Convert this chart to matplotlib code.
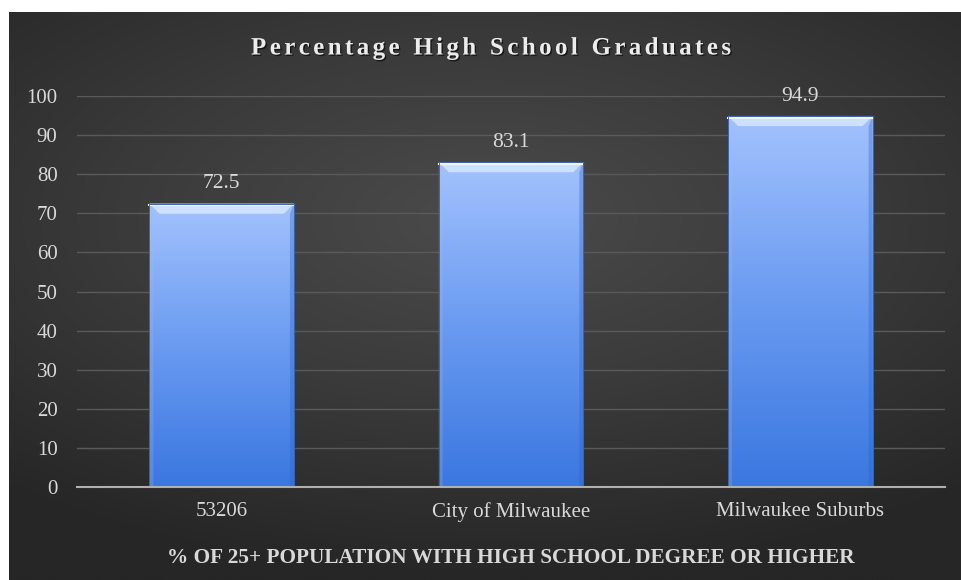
import numpy as np
import matplotlib
matplotlib.use("Agg")
from matplotlib import pyplot as plt
from matplotlib.colors import LinearSegmentedColormap
from matplotlib.patches import Polygon
import matplotlib.patheffects as pe

categories = ["53206", "City of Milwaukee", "Milwaukee Suburbs"]
values = [72.5, 83.1, 94.9]
yticks = [0, 10, 20, 30, 40, 50, 60, 70, 80, 90, 100]

title = "Percentage High School Graduates"
xlabel = "% OF 25+ POPULATION WITH HIGH SCHOOL DEGREE OR HIGHER"

plt.rcParams['font.family'] = ['Liberation Serif', 'DejaVu Serif']

fig = plt.figure(figsize=(9.62, 5.8), dpi=100)
fig.patch.set_facecolor('white')

# dark radial background
bg = fig.add_axes([9 / 962, 0, 953 / 962, 568 / 580])
yy, xx = np.mgrid[-1:1:300j, -1:1:500j]
r = np.sqrt((xx * 0.9) ** 2 + (yy * 1.1 + 0.3) ** 2)
bg_cmap = LinearSegmentedColormap.from_list('bg', ['#4b4b4b', '#3a3a3a', '#262626'])
bg.imshow(r, cmap=bg_cmap, aspect='auto', extent=[0, 1, 0, 1], vmin=0, vmax=1.4)
bg.axis('off')

ax = fig.add_axes([77 / 962, (580 - 487) / 580, (945 - 77) / 962, (487 - 96) / 580])
ax.patch.set_alpha(0)
ax.set_xlim(-0.5, 2.5)
ax.set_ylim(0, 100)

bars = ax.bar(range(len(categories)), values, width=0.5, color='none', zorder=3)
bar_cmap = LinearSegmentedColormap.from_list('bar', ['#3a77e0', '#6a9bf1', '#a3c2fd'])
grad = np.linspace(0, 1, 256).reshape(-1, 1)
dx = 0.035   # bevel width in data units (x)
dy = 2.6     # bevel height in data units (y)
for b in bars:
    x0, w, h = b.get_x(), b.get_width(), b.get_height()
    x1 = x0 + w
    im = ax.imshow(grad, cmap=bar_cmap, aspect='auto', origin='lower',
                   extent=[x0, x1, 0, h], zorder=3, vmin=0, vmax=1)
    im.set_clip_path(b)
    # bevels
    ax.add_patch(Polygon([[x0, h], [x1, h], [x1 - dx, h - dy], [x0 + dx, h - dy]],
                         closed=True, facecolor='#d6e6ff', edgecolor='none', alpha=0.85, zorder=4))
    ax.add_patch(Polygon([[x0, 0], [x0, h], [x0 + dx * 0.4, h - dy], [x0 + dx * 0.4, 0]],
                         closed=True, facecolor='#9dbdf8', edgecolor='none', alpha=0.25, zorder=4))
    ax.add_patch(Polygon([[x1, 0], [x1, h], [x1 - dx * 0.4, h - dy], [x1 - dx * 0.4, 0]],
                         closed=True, facecolor='#2e63c4', edgecolor='none', alpha=0.35, zorder=4))
    ax.plot([x0, x1], [h - 0.5, h - 0.5], color='#eef5ff', lw=1.5, zorder=4)
    ax.plot([x0, x1, x1, x0, x0], [0, 0, h, h, 0], color='#3c64a8', lw=0.7, zorder=4)
    ax.text(x0 + w / 2, h + 2.6, f"{h:.1f}", ha='center', va='bottom', fontsize=15.5,
            color='#d9d9d9', zorder=5)

ax.set_yticks(yticks)
ax.set_xticks(range(len(categories)))
ax.set_xticklabels(categories)
ax.grid(axis='y', color='#5a5a5a', lw=1, zorder=0)
ax.tick_params(axis='both', length=0, labelsize=15, labelcolor='#d9d9d9')
ax.tick_params(axis='y', pad=14)
ax.tick_params(axis='x', pad=11)
for s in ['top', 'right', 'left']:
    ax.spines[s].set_visible(False)
ax.spines['bottom'].set_color('#b0b0b0')
ax.spines['bottom'].set_linewidth(1.5)
ax.spines['bottom'].set_zorder(6)

ax.set_xlabel(xlabel, fontsize=15.3, fontweight='bold', color='#d9d9d9', va='center')
ax.xaxis.set_label_coords(0.5, -(558 - 487) / 391)

# title with letter spacing
renderer = fig.canvas.get_renderer()
fsize = 18
shadow = [pe.withSimplePatchShadow(offset=(1, -1), shadow_rgbFace='black', alpha=0.6)]
widths = []
for ch in title:
    t = fig.text(0, 0, ch if ch != ' ' else 'n', fontsize=fsize, fontweight='bold')
    bb = t.get_window_extent(renderer)
    widths.append(bb.width * (0.5 if ch == ' ' else 1.0))
    t.remove()
target_w = 480
gap = (target_w - sum(widths)) / (len(title) - 1)
xpos = 491 - target_w / 2
for ch, cw in zip(title, widths):
    if ch != ' ':
        fig.text(xpos / 962, 1 - 48 / 580, ch, ha='left', va='center', fontsize=fsize,
                 fontweight='bold', color='#ececec', path_effects=shadow)
    xpos += cw + gap

fig.savefig('out.png', dpi=100)
